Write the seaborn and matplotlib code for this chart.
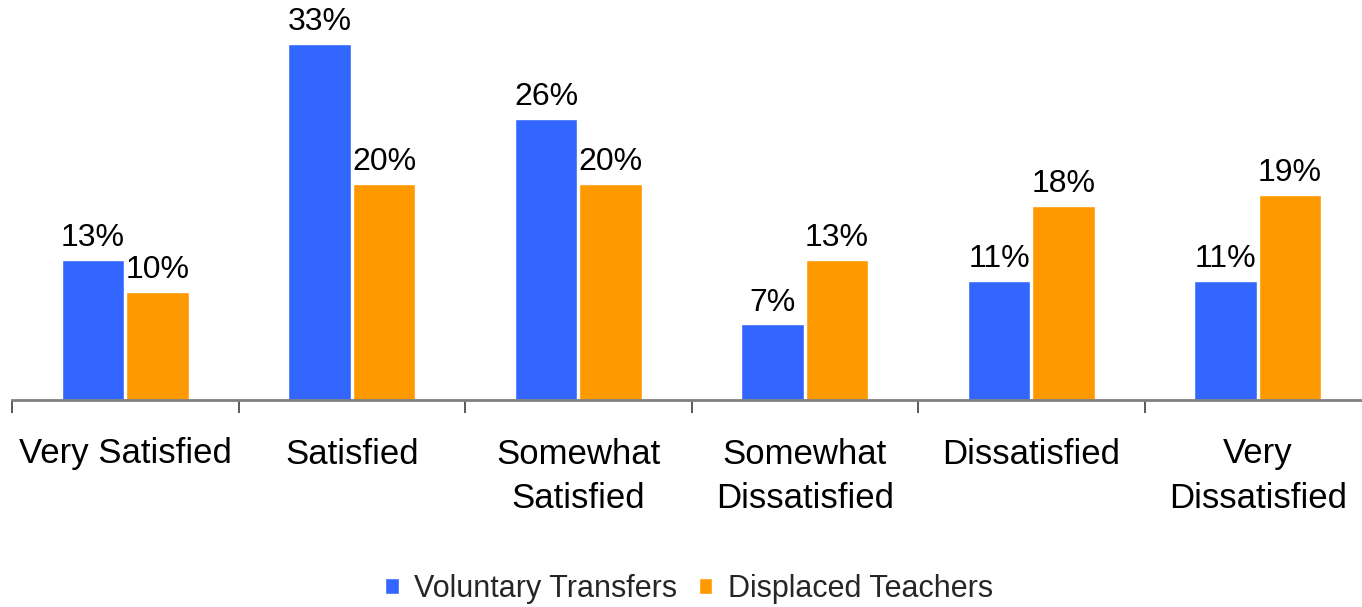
import matplotlib
matplotlib.use("Agg")
import matplotlib.pyplot as plt
import seaborn as sns
import pandas as pd
from matplotlib.ticker import FixedLocator

categories = ["Very Satisfied", "Satisfied", "Somewhat\nSatisfied",
              "Somewhat\nDissatisfied", "Dissatisfied", "Very\nDissatisfied"]
series_names = ["Voluntary Transfers", "Displaced Teachers"]
voluntary = [13, 33, 26, 7, 11, 11]
displaced = [10, 20, 20, 13, 18, 19]

df = pd.DataFrame({
    "category": categories * 2,
    "value": voluntary + displaced,
    "series": [series_names[0]] * len(categories) + [series_names[1]] * len(categories),
})

sns.set_theme(style="white")
plt.rcParams["font.family"] = ["Liberation Sans", "DejaVu Sans"]

fig = plt.figure(figsize=(13.62, 6.07), dpi=100)
ax = fig.add_axes([12 / 1362, (607 - 400) / 607, 6 * 226.5 / 1362, 0.640])

sns.barplot(data=df, x="category", y="value", hue="series", order=categories,
            hue_order=series_names, palette=["#3366FF", "#FF9900"],
            width=0.57, gap=0.035, ax=ax, saturation=1, legend=True)

for cont in ax.containers:
    ax.bar_label(cont, labels=[f"{v:.0f}%" for v in cont.datavalues],
                 padding=5, fontsize=23, color="black")

ax.set_xlim(-0.5, 5.5)
ax.set_ylim(0, 36)
ax.set_xlabel("")
ax.set_ylabel("")
ax.set_yticks([])
for s in ["top", "right", "left"]:
    ax.spines[s].set_visible(False)
ax.spines["bottom"].set_color("#808080")
ax.spines["bottom"].set_linewidth(2)

ax.tick_params(axis="x", which="major", length=0, pad=27, labelsize=25, colors="black")
for lbl in ax.get_xticklabels():
    lbl.set_linespacing(1.45)
ax.xaxis.set_minor_locator(FixedLocator([-0.5, 0.5, 1.5, 2.5, 3.5, 4.5, 5.5]))
ax.tick_params(axis="x", which="minor", bottom=True, length=9, width=1.2, color="#404040")

leg = ax.legend(loc="lower center", bbox_to_anchor=(677 / (6 * 226.5), -0.595),
                ncol=2, frameon=False, fontsize=22, handlelength=0.45,
                handleheight=0.45, handletextpad=0.5, columnspacing=0.7)

fig.savefig("out.png", dpi=100)
